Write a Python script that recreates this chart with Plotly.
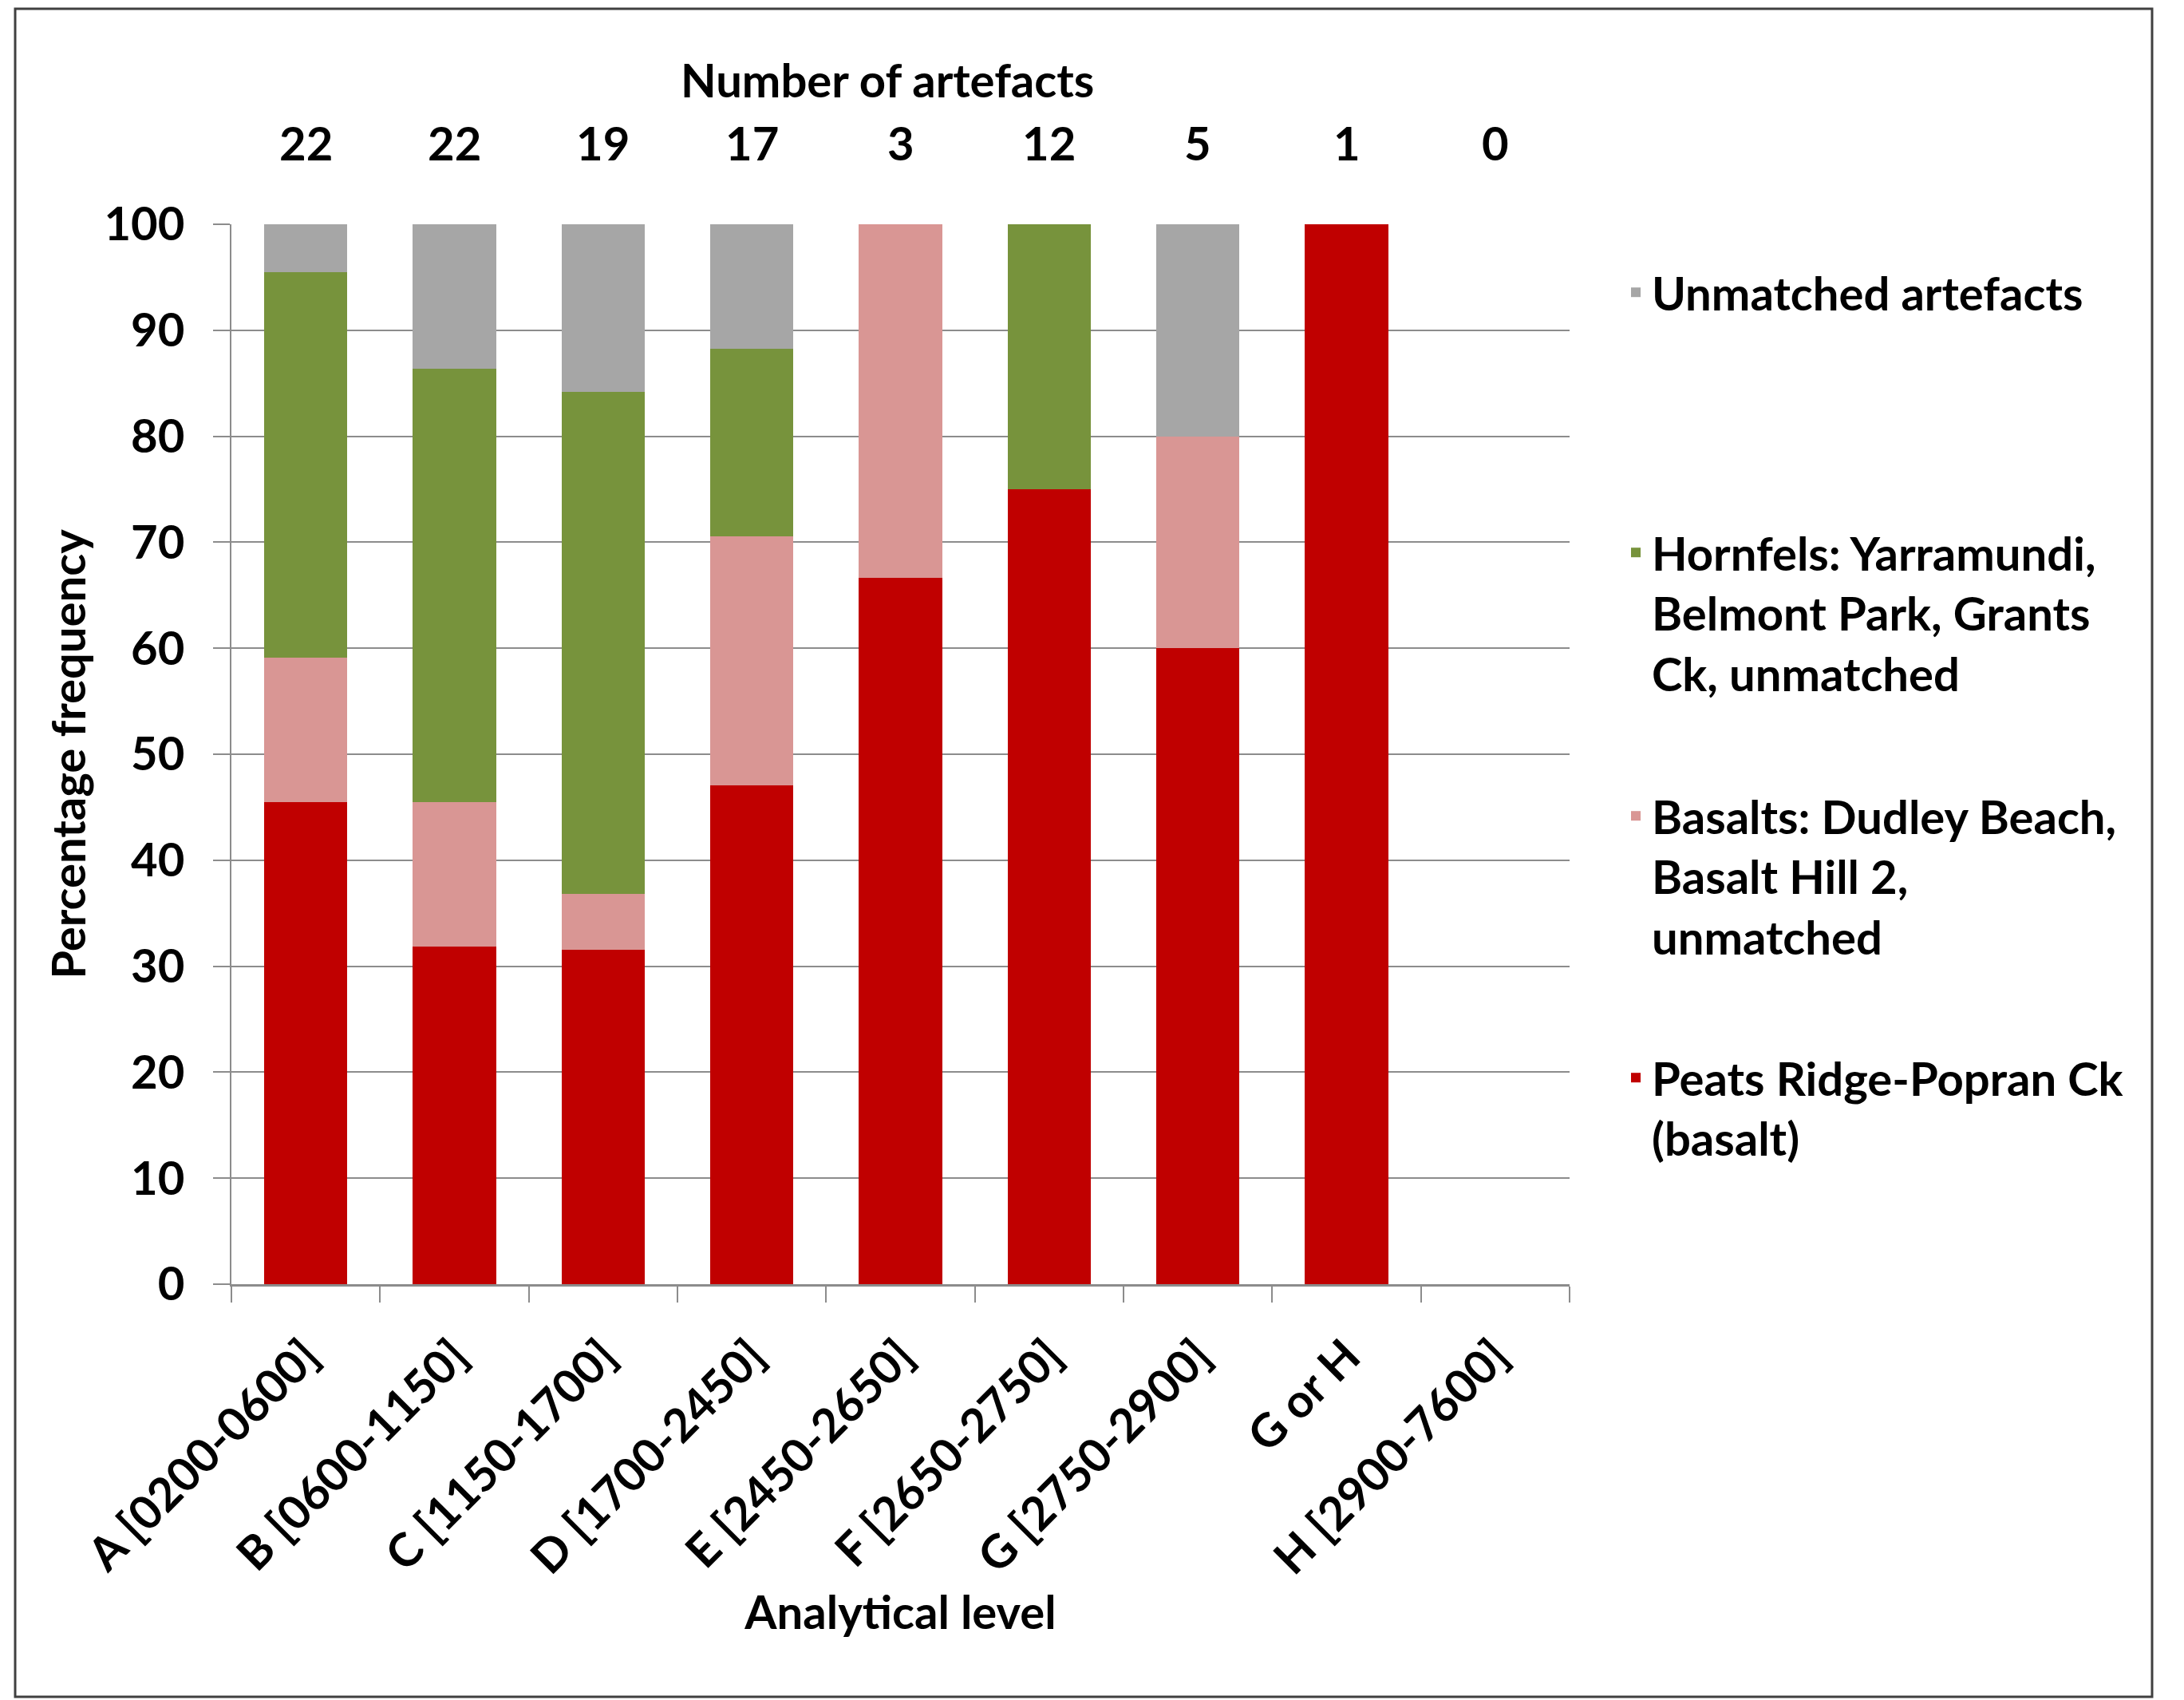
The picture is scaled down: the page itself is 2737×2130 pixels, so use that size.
import plotly.graph_objects as go

categories = ["A [0200-0600]", "B [0600-1150]", "C [1150-1700]", "D [1700-2450]",
              "E [2450-2650]", "F [2650-2750]", "G [2750-2900]", "G or H", "H [2900-7600]"]
counts = [22, 22, 19, 17, 3, 12, 5, 1, 0]

peats = [45.45, 31.82, 31.58, 47.06, 66.67, 75.0, 60.0, 100.0, 0]
basalts = [13.64, 13.64, 5.26, 23.53, 33.33, 0, 20.0, 0, 0]
hornfels = [36.36, 40.91, 47.37, 17.65, 0, 25.0, 0, 0, 0]
unmatched = [4.55, 13.63, 15.79, 11.76, 0, 0, 20.0, 0, 0]

series = [
    ("Peats Ridge-Popran Ck<br>(basalt)", peats, "#C00000", "legend4"),
    ("Basalts: Dudley Beach,<br>Basalt Hill 2,<br>unmatched", basalts, "#D99694", "legend3"),
    ("Hornfels: Yarramundi,<br>Belmont Park, Grants<br>Ck, unmatched", hornfels, "#77933C", "legend2"),
    ("Unmatched artefacts", unmatched, "#A6A6A6", "legend"),
]

FONT = "Lato"
FS = 58
fig = go.Figure()
for name, vals, col, leg in series:
    fig.add_trace(go.Bar(x=categories, y=vals, name=name, marker_color=col,
                         marker_line_width=0, legend=leg, showlegend=True))

GRAY = "#8C8C8C"
W, H = 2737, 2130
L, R, T, B = 290, 770, 281, 521
pw, ph = W - L - R, H - T - B

def px_x(x):
    return (x - L) / pw

def px_y(y):
    return (H - B - y) / ph

legend_common = dict(font=dict(family=FONT, size=FS, color="black", weight="bold"),
                     bgcolor="rgba(0,0,0,0)", valign="top", xanchor="left", yanchor="top",
                     x=px_x(2030), visible=True)

fig.update_layout(
    width=W, height=H,
    margin=dict(l=L, r=R, t=T, b=B),
    barmode="stack", bargap=0.44,
    showlegend=True,
    plot_bgcolor="white", paper_bgcolor="white",
    font=dict(family=FONT, size=FS, color="black", weight="bold"),
    legend=dict(legend_common, y=px_y(322)),
    legend2=dict(legend_common, y=px_y(648)),
    legend3=dict(legend_common, y=px_y(978)),
    legend4=dict(legend_common, y=px_y(1306)),
    xaxis=dict(tickangle=-45, tickson="boundaries", ticks="outside", ticklen=20,
               tickcolor=GRAY, tickwidth=2, showline=True, linecolor=GRAY, linewidth=3,
               showgrid=False, ticklabelstandoff=30,
               title=dict(text="Analytical level", standoff=10,
                          font=dict(family=FONT, size=FS, weight="bold")),
               tickfont=dict(family=FONT, size=FS, weight="bold")),
    yaxis=dict(range=[0, 100], dtick=10, ticks="outside", ticklen=21, tickcolor=GRAY,
               tickwidth=2, showline=True, linecolor=GRAY, linewidth=2,
               showgrid=True, gridcolor=GRAY, gridwidth=2, zeroline=False,
               ticklabelstandoff=24,
               title=dict(text="Percentage frequency", standoff=4,
                          font=dict(family=FONT, size=FS, weight="bold")),
               tickfont=dict(family=FONT, size=FS, weight="bold")),
)

annotations = [dict(text="Number of artefacts", xref="paper", yref="paper",
                    x=px_x(1112), y=px_y(100), showarrow=False,
                    xanchor="center", yanchor="middle",
                    font=dict(family=FONT, size=FS, weight="bold"))]
for c, n in zip(categories, counts):
    annotations.append(dict(text=str(n), x=c, xref="x", yref="paper", y=px_y(178),
                            showarrow=False, xanchor="center", yanchor="middle",
                            font=dict(family=FONT, size=FS, weight="bold")))
fig.update_layout(annotations=annotations)

fig.add_shape(type="rect", xref="paper", yref="paper",
              x0=px_x(19), x1=px_x(2697), y0=px_y(2126), y1=px_y(11),
              line=dict(color="#404040", width=3), fillcolor="rgba(0,0,0,0)", layer="below")

fig.write_html("out.html")
